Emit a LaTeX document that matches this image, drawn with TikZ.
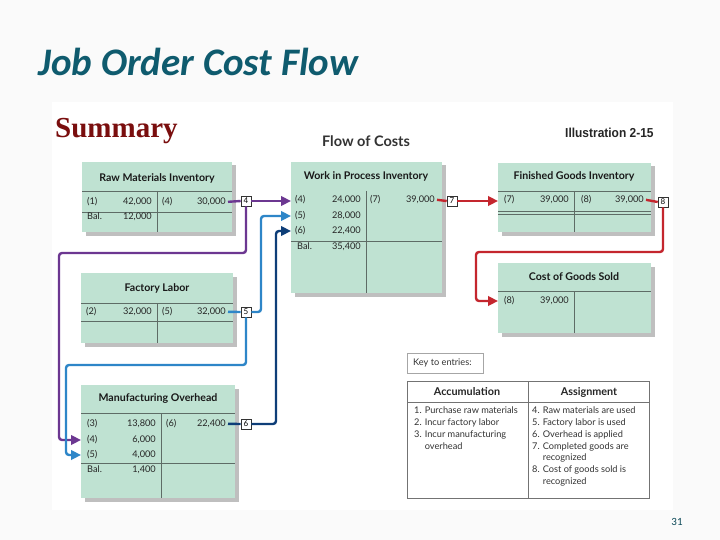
\documentclass[tikz,border=0pt]{standalone}
\usepackage{fontspec}
\setmainfont{Lato}
\newfontfamily\titlefont{Carlito}
\newfontfamily\summaryfont{Liberation Serif}
\newfontfamily\captionfont{Liberation Sans}
\usetikzlibrary{arrows.meta, calc, shadows}

\definecolor{acctgreen}{HTML}{BFE2D2}
\definecolor{acctline}{HTML}{5E6C66}
\definecolor{titleteal}{HTML}{0F5B6E}
\definecolor{summaryred}{HTML}{7A0E0E}
\definecolor{flowpurple}{HTML}{6C3791}
\definecolor{flowblue}{HTML}{2E86C8}
\definecolor{flownavy}{HTML}{0E3E78}
\definecolor{flowred}{HTML}{C4262E}

\tikzset{
  acct/.style={fill=acctgreen, drop shadow={shadow xshift=3.5pt, shadow yshift=-3.5pt, fill=black!25, opacity=1}},
  rule/.style={draw=acctline, line width=0.8pt},
  accthead/.style={font=\bfseries\fontsize{10.6}{12}\selectfont, text=black!90, inner sep=0pt},
  amt/.style={font=\fontsize{9.2}{10}\selectfont, inner sep=0pt, text=black!85},
  numbox/.style={draw=black!80, fill=white, line width=0.6pt, minimum width=10pt, minimum height=10pt, inner sep=0pt, font=\fontsize{8}{9}\selectfont},
  flow/.style={line width=2.4pt, rounded corners=3pt},
  flowtip/.style={-{Triangle[length=10pt,width=9.5pt]}},
  keytext/.style={font=\fontsize{9.2}{11.7}\selectfont, text=black!80, align=left, inner sep=0pt},
}

\begin{document}
\begin{tikzpicture}[x=1pt, y=-1pt]
\useasboundingbox (0,0) rectangle (720,540);
\fill[black!2] (0,0) rectangle (720,540);
\fill[white] (52,102) rectangle (673,510);

% slide title and captions
\node[anchor=base west, inner sep=0pt, text=titleteal, font=\titlefont\bfseries\itshape\fontsize{39}{44}\selectfont] (title) at (38,76) {Job Order Cost Flow};
\node[anchor=base west, inner sep=0pt, text=summaryred, font=\summaryfont\bfseries\fontsize{29}{32}\selectfont] (summary) at (55,138) {Summary};
\node[font=\bfseries\fontsize{14.5}{16}\selectfont, text=black!80] (flowhead) at (366,141) {Flow of Costs};
\node[anchor=base west, inner sep=0pt, xscale=0.92, font=\captionfont\bfseries\fontsize{13}{14}\selectfont, text=black!85] (illus) at (565,138) {Illustration 2-15};

% Raw Materials Inventory
\fill[acct] (82,162) rectangle (232,232);
\node[accthead] (rmi) at (157,178) {Raw Materials Inventory};
\draw[rule] (82,191) -- (232,191) (82,212) -- (232,212) (157,191) -- (157,232);
\node[amt, anchor=mid west] (rmi-l1) at (87,202) {(1)};
\node[amt, anchor=mid east] (rmi-v1) at (152,202) {42,000};
\node[amt, anchor=mid west] (rmi-l4) at (162,202) {(4)};
\node[amt, anchor=mid east] (rmi-v4) at (226,202) {30,000};
\node[amt, anchor=mid west] (rmi-lb) at (87,217) {Bal.};
\node[amt, anchor=mid east] (rmi-vb) at (152,217) {12,000};

% Factory Labor
\fill[acct] (81,273) rectangle (233,343);
\node[accthead] (fl) at (157,288) {Factory Labor};
\draw[rule] (81,303) -- (233,303) (81,321) -- (233,321) (157,303) -- (157,343);
\node[amt, anchor=mid west] (fl-l2) at (86,312) {(2)};
\node[amt, anchor=mid east] (fl-v2) at (152,312) {32,000};
\node[amt, anchor=mid west] (fl-l5) at (162,312) {(5)};
\node[amt, anchor=mid east] (fl-v5) at (226,312) {32,000};

% Manufacturing Overhead
\fill[acct] (81,385) rectangle (235,498);
\node[accthead] (mo) at (158,399) {Manufacturing Overhead};
\draw[rule] (81,413) -- (235,413) (81,463) -- (235,463) (161,413) -- (161,498);
\node[amt, anchor=mid west] (mo-l3) at (87,424) {(3)};
\node[amt, anchor=mid east] (mo-v3) at (156,424) {13,800};
\node[amt, anchor=mid west] (mo-l4) at (87,440) {(4)};
\node[amt, anchor=mid east] (mo-v4) at (156,440) {6,000};
\node[amt, anchor=mid west] (mo-l5) at (87,455) {(5)};
\node[amt, anchor=mid east] (mo-v5) at (156,455) {4,000};
\node[amt, anchor=mid west] (mo-lb) at (87,470) {Bal.};
\node[amt, anchor=mid east] (mo-vb) at (156,470) {1,400};
\node[amt, anchor=mid west] (mo-l6) at (166,424) {(6)};
\node[amt, anchor=mid east] (mo-v6) at (226,424) {22,400};

% Work in Process Inventory
\fill[acct] (291,162) rectangle (442,293);
\node[accthead] (wip) at (366,176) {Work in Process Inventory};
\draw[rule] (291,241) -- (442,241) (366,191) -- (366,293);
\node[amt, anchor=mid west] (wip-l4) at (295,200) {(4)};
\node[amt, anchor=mid east] (wip-v4) at (361,200) {24,000};
\node[amt, anchor=mid west] (wip-l5) at (295,216) {(5)};
\node[amt, anchor=mid east] (wip-v5) at (361,216) {28,000};
\node[amt, anchor=mid west] (wip-l6) at (295,231) {(6)};
\node[amt, anchor=mid east] (wip-v6) at (361,231) {22,400};
\node[amt, anchor=mid west] (wip-lb) at (297,247) {Bal.};
\node[amt, anchor=mid east] (wip-vb) at (361,247) {35,400};
\node[amt, anchor=mid west] (wip-l7) at (370,200) {(7)};
\node[amt, anchor=mid east] (wip-v7) at (435,200) {39,000};

% Finished Goods Inventory
\fill[acct] (498,163) rectangle (651,232);
\node[accthead] (fg) at (574,176) {Finished Goods Inventory};
\draw[rule] (498,191) -- (651,191) (574,191) -- (574,232);
\draw[rule, line width=0.6pt] (498,211) -- (651,211) (498,214) -- (651,214);
\node[amt, anchor=mid west] (fg-l7) at (504,200) {(7)};
\node[amt, anchor=mid east] (fg-v7) at (569,200) {39,000};
\node[amt, anchor=mid west] (fg-l8) at (581,200) {(8)};
\node[amt, anchor=mid east] (fg-v8) at (644,200) {39,000};

% Cost of Goods Sold
\fill[acct] (498,263) rectangle (651,333);
\node[accthead] (cgs) at (574,277) {Cost of Goods Sold};
\draw[rule] (498,291) -- (651,291) (574,291) -- (574,333);
\node[amt, anchor=mid west] (cgs-l8) at (504,301) {(8)};
\node[amt, anchor=mid east] (cgs-v8) at (569,301) {39,000};

% entry number boxes
\node[numbox] (n4) at (246,201) {4};
\node[numbox] (n5) at (246,312) {5};
\node[numbox] (n6) at (246,424) {6};
\node[numbox] (n7) at (452,201) {7};
\node[numbox] (n8) at (663,202) {8};

% arrow targets
\coordinate (wip-in4) at (291,201);
\coordinate (wip-in5) at (291,216);
\coordinate (wip-in6) at (291,231);
\coordinate (mo-in4) at (81,440);
\coordinate (mo-in5) at (81,455);
\coordinate (fg-in7) at (498,201);
\coordinate (cgs-in8) at (498,301);

% (4) raw materials used
\draw[flow, flowpurple] (rmi-v4.east) ++(2,0) -- (n4.west);
\draw[flow, flowpurple, flowtip] (n4.east) -- (wip-in4);
\draw[flow, flowpurple, flowtip] (n4.south) -- (246,253) -- (59,253) -- (59,440) -- (mo-in4);
% (5) factory labor used
\draw[flow, flowblue] (fl-v5.east) ++(2,0) -- (n5.west);
\draw[flow, flowblue, flowtip] (n5.east) -- (261,312) -- (261,216) -- (wip-in5);
\draw[flow, flowblue, flowtip] (n5.south) -- (246,365) -- (66,365) -- (66,455) -- (mo-in5);
% (6) overhead applied
\draw[flow, flownavy] (mo-v6.east) ++(2,0) -- (n6.west);
\draw[flow, flownavy, flowtip] (n6.east) -- (276,424) -- (276,231) -- (wip-in6);
% (7) and (8) completed goods, goods sold
\draw[flow, flowred] (wip-v7.east) ++(2,0) -- (n7.west);
\draw[flow, flowred, flowtip] (n7.east) -- (fg-in7);
\draw[flow, flowred] (fg-v8.east) ++(2,0) -- (n8.west);
\draw[flow, flowred, flowtip] (n8.south) -- (663,252) -- (476,252) -- (476,301) -- (cgs-in8);

% key to entries
\draw[black!35, line width=0.6pt, fill=white] (407,353) rectangle (483,373);
\node[keytext, anchor=mid west] (keylbl) at (413,363) {Key to entries:};
\draw[black!55, line width=0.6pt, fill=white] (407,381) rectangle (649,498);
\draw[black!55, line width=0.6pt] (407,402) -- (649,402) (528,381) -- (528,498);
\node[font=\bfseries\fontsize{10.8}{12}\selectfont, text=black!85] (accum) at (467,392) {Accumulation};
\node[font=\bfseries\fontsize{10.8}{12}\selectfont, text=black!85] (assign) at (589,392) {Assignment};
\node[keytext, anchor=north west] (accum-list) at (414,407) {1. Purchase raw materials\\2. Incur factory labor\\3. Incur manufacturing\\\phantom{3. }overhead};
\node[keytext, anchor=north west] (assign-list) at (532,407) {4. Raw materials are used\\5. Factory labor is used\\6. Overhead is applied\\7. Completed goods are\\\phantom{7. }recognized\\8. Cost of goods sold is\\\phantom{8. }recognized};

% page number
\node[font=\titlefont\fontsize{11}{12}\selectfont, text=titleteal!80!black] (pageno) at (677,522) {31};
\end{tikzpicture}
\end{document}
